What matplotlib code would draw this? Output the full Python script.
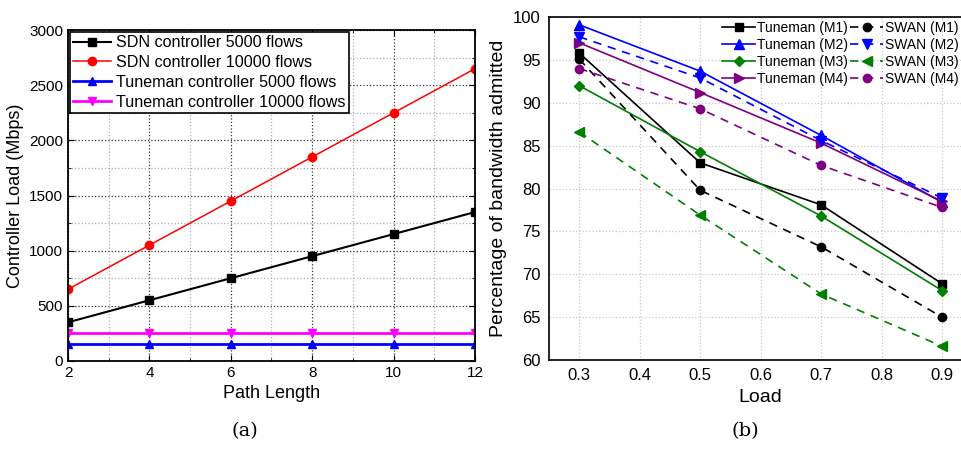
import numpy as np
import matplotlib.pyplot as plt
from matplotlib.ticker import MultipleLocator

plt.rcParams['font.family'] = ['Liberation Sans', 'DejaVu Sans']

# (a) controller load
path_len = [2, 4, 6, 8, 10, 12]
sdn_5000 = [350, 550, 750, 950, 1150, 1350]
sdn_10000 = [650, 1050, 1450, 1850, 2250, 2650]
tun_5000 = [150, 150, 150, 150, 150, 150]
tun_10000 = [250, 250, 250, 250, 250, 250]

# (b) bandwidth admitted
load = [0.3, 0.5, 0.7, 0.9]
tun_m1 = [95.8, 83.0, 78.1, 68.9]
swan_m1 = [95.1, 79.8, 73.2, 65.0]
tun_m2 = [99.1, 93.7, 86.2, 78.4]
swan_m2 = [97.7, 92.9, 85.6, 78.9]
tun_m3 = [92.0, 84.3, 76.8, 68.1]
swan_m3 = [86.6, 76.9, 67.7, 61.6]
tun_m4 = [97.0, 91.2, 85.3, 78.5]
swan_m4 = [94.0, 89.3, 82.7, 77.8]

fig = plt.figure(figsize=(9.62, 4.5), dpi=100)

# ---- left panel
ax1 = fig.add_axes([0.0707, 0.198, 0.423, 0.735])
ax1.plot(path_len, sdn_5000, color='black', marker='s', ms=6, lw=1.5, label='SDN controller 5000 flows')
ax1.plot(path_len, sdn_10000, color='red', marker='o', ms=6, lw=1.1, label='SDN controller 10000 flows')
ax1.plot(path_len, tun_5000, color='blue', marker='^', ms=6, lw=2, label='Tuneman controller 5000 flows')
ax1.plot(path_len, tun_10000, color='magenta', marker='v', ms=6, lw=2, label='Tuneman controller 10000 flows')
ax1.set_xlim(2, 12)
ax1.set_ylim(0, 3000)
ax1.xaxis.set_major_locator(MultipleLocator(2))
ax1.xaxis.set_minor_locator(MultipleLocator(1))
ax1.yaxis.set_major_locator(MultipleLocator(500))
ax1.yaxis.set_minor_locator(MultipleLocator(250))
ax1.tick_params(which='both', direction='in', top=True, right=True, labelsize=11)
ax1.tick_params(which='major', length=4)
ax1.tick_params(which='minor', length=2)
ax1.grid(which='major', ls=':', color='#333333', lw=0.9)
ax1.grid(which='minor', ls=':', color='#b0b0b0', lw=0.9)
ax1.set_axisbelow(True)
ax1.set_xlabel('Path Length', fontsize=13)
ax1.set_ylabel('Controller Load (Mbps)', fontsize=13)
for s in ax1.spines.values():
    s.set_linewidth(1.3)
leg1 = ax1.legend(loc='upper left', fontsize=11.6, fancybox=False, edgecolor='black',
                  framealpha=1, borderaxespad=0.1, handlelength=2.35, handletextpad=0.3,
                  borderpad=0.22, labelspacing=0.3)
leg1.get_frame().set_linewidth(1.2)

# ---- right panel
ax2 = fig.add_axes([0.5707, 0.2, 0.44, 0.762])
ax2.plot(load, tun_m1, color='black', marker='s', ms=6, lw=1.2, label='Tuneman (M1)')
ax2.plot(load, tun_m2, color='blue', marker='^', ms=7, lw=1.2, label='Tuneman (M2)')
ax2.plot(load, tun_m3, color='green', marker='D', ms=5, lw=1.2, label='Tuneman (M3)')
ax2.plot(load, tun_m4, color='purple', marker='>', ms=7, lw=1.2, label='Tuneman (M4)')
ax2.plot(load, swan_m1, color='black', marker='o', ms=6, lw=1.2, ls=(0, (5, 4)), label='SWAN (M1)')
ax2.plot(load, swan_m2, color='blue', marker='v', ms=7, lw=1.2, ls=(0, (5, 4)), label='SWAN (M2)')
ax2.plot(load, swan_m3, color='green', marker='<', ms=7, lw=1.2, ls=(0, (5, 4)), label='SWAN (M3)')
ax2.plot(load, swan_m4, color='purple', marker='o', ms=6, lw=1.2, ls=(0, (5, 4)), label='SWAN (M4)')
ax2.set_xlim(0.25, 0.95)
ax2.set_ylim(60, 100)
ax2.set_xticks([0.3, 0.4, 0.5, 0.6, 0.7, 0.8, 0.9])
ax2.yaxis.set_major_locator(MultipleLocator(5))
ax2.tick_params(length=0, labelsize=12, pad=6)
ax2.grid(ls=':', color='#c8c8c8', lw=0.9)
ax2.set_axisbelow(True)
ax2.set_xlabel('Load', fontsize=14)
ax2.set_ylabel('Percentage of bandwidth admitted', fontsize=14)
for s in ax2.spines.values():
    s.set_linewidth(1.2)
ax2.legend(loc='upper left', bbox_to_anchor=(0.39, 1.012), ncol=2, fontsize=10, frameon=False,
           handlelength=2.35, handletextpad=0.15, columnspacing=0.15, labelspacing=0.2,
           borderaxespad=0.2)

fig.text(0.255, 0.03, '(a)', fontsize=14, family='DejaVu Serif', ha='center')
fig.text(0.775, 0.03, '(b)', fontsize=14, family='DejaVu Serif', ha='center')

fig.savefig('out.png', dpi=100)
